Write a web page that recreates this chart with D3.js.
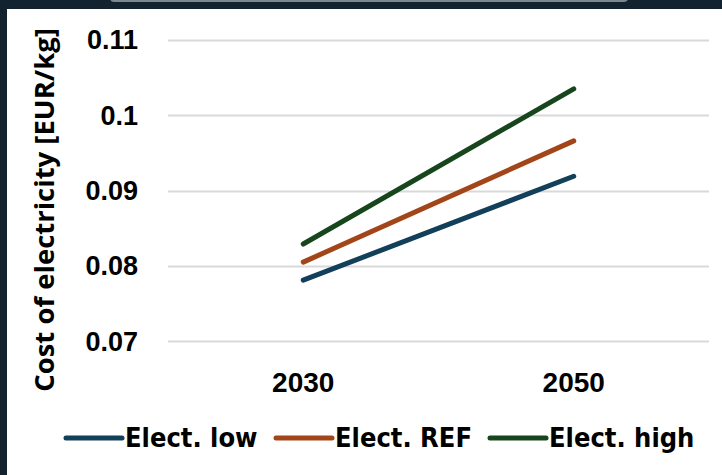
<!DOCTYPE html>
<html>
<head>
<meta charset="utf-8">
<script src="https://cdn.jsdelivr.net/npm/d3@7"></script>
<style>
  html, body { margin: 0; padding: 0; background: #12222f; }
  #chart { width: 722px; height: 475px; }
</style>
</head>
<body>
<div id="chart"></div>
<script>
// data
const years = ["2030", "2050"];
const seriesNames = ["Elect. low", "Elect. REF", "Elect. high"];
const seriesColors = ["#123f59", "#a2461a", "#17451c"];
const electLow = [0.0781, 0.0919];
const electRef = [0.0805, 0.0966];
const electHigh = [0.0829, 0.1035];
const yTicks = [0.07, 0.08, 0.09, 0.1, 0.11];

const width = 722, height = 475;
const svg = d3.select("#chart").append("svg")
  .attr("width", width)
  .attr("height", height);

// dark background and white panel
svg.append("rect").attr("width", width).attr("height", height).attr("fill", "#12222f");
svg.append("rect").attr("x", 110).attr("y", -6).attr("width", 518).attr("height", 8)
  .attr("rx", 4).attr("fill", "#7d8790");
svg.append("rect").attr("x", 7).attr("y", 9).attr("width", width - 7).attr("height", height - 9)
  .attr("fill", "#ffffff");

const plot = { left: 168, right: 709, top: 40, bottom: 366 };

const x = d3.scaleBand().domain(years).range([plot.left, plot.right]);
const y = d3.scaleLinear().domain([0.0667, 0.11]).range([plot.bottom, plot.top]);

// gridlines
svg.append("g")
  .selectAll("line")
  .data(yTicks)
  .join("line")
  .attr("x1", plot.left)
  .attr("x2", plot.right)
  .attr("y1", d => Math.round(y(d)) + 0.5)
  .attr("y2", d => Math.round(y(d)) + 0.5)
  .attr("stroke", "#d9d9d9")
  .attr("stroke-width", 2);

// y tick labels
svg.append("g")
  .selectAll("text")
  .data(yTicks)
  .join("text")
  .attr("x", 138)
  .attr("y", d => y(d))
  .attr("dy", "0.35em")
  .attr("text-anchor", "end")
  .attr("font-family", "'Liberation Sans', Arial, sans-serif")
  .attr("font-weight", "bold")
  .attr("font-size", 27)
  .attr("fill", "#000")
  .text(d => d === 0.1 ? "0.1" : d.toFixed(2));

// x labels
svg.append("g")
  .selectAll("text")
  .data(years)
  .join("text")
  .attr("x", d => x(d) + x.bandwidth() / 2)
  .attr("y", 382)
  .attr("dy", "0.35em")
  .attr("text-anchor", "middle")
  .attr("font-family", "'Liberation Sans', Arial, sans-serif")
  .attr("font-weight", "bold")
  .attr("font-size", 28)
  .attr("fill", "#000")
  .text(d => d);

// y axis title
svg.append("text")
  .attr("transform", "translate(44,210) rotate(-90)")
  .attr("dy", "0.35em")
  .attr("text-anchor", "middle")
  .attr("font-family", "'Open Sans', sans-serif")
  .attr("font-weight", "bold")
  .attr("font-size", 27.5)
  .attr("fill", "#000")
  .text("Cost of electricity [EUR/kg]");

// lines
const allSeries = [electLow, electRef, electHigh];
const line = d3.line()
  .x((d, i) => x(years[i]) + x.bandwidth() / 2)
  .y(d => y(d));

svg.append("g")
  .selectAll("path")
  .data(allSeries)
  .join("path")
  .attr("d", d => line(d))
  .attr("fill", "none")
  .attr("stroke", (d, i) => seriesColors[i])
  .attr("stroke-width", 5)
  .attr("stroke-linecap", "round");

// legend
const legendX = [66, 276, 490];
const legend = svg.append("g")
  .selectAll("g")
  .data(seriesNames)
  .join("g")
  .attr("transform", (d, i) => `translate(${legendX[i]},438)`);

legend.append("line")
  .attr("x1", 0).attr("x2", 56)
  .attr("stroke", (d, i) => seriesColors[i])
  .attr("stroke-width", 5)
  .attr("stroke-linecap", "round");

legend.append("text")
  .attr("x", 59)
  .attr("dy", "0.35em")
  .attr("font-family", "'Liberation Sans Narrow', 'DejaVu Sans Condensed', sans-serif")
  .attr("font-weight", "bold")
  .attr("font-size", 27)
  .attr("fill", "#000")
  .text(d => d);
</script>
</body>
</html>
